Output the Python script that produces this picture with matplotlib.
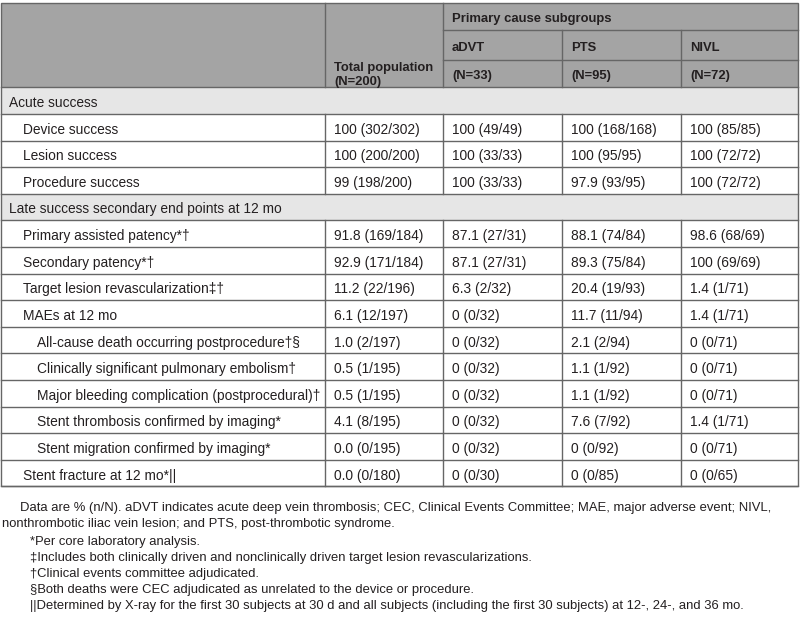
import matplotlib
matplotlib.use("Agg")
import matplotlib.pyplot as plt
from matplotlib.patches import Rectangle

plt.rcParams['font.family'] = ['Liberation Sans', 'DejaVu Sans']

# data of the table
col_heads = ["aDVT", "PTS", "NIVL"]
col_n = ["(N=33)", "(N=95)", "(N=72)"]
total_head = ["Total population", "(N=200)"]
group_head = "Primary cause subgroups"

row_labels = [
    "Acute success",
    "Device success",
    "Lesion success",
    "Procedure success",
    "Late success secondary end points at 12 mo",
    "Primary assisted patency*†",
    "Secondary patency*†",
    "Target lesion revascularization‡†",
    "MAEs at 12 mo",
    "All-cause death occurring postprocedure†§",
    "Clinically significant pulmonary embolism†",
    "Major bleeding complication (postprocedural)†",
    "Stent thrombosis confirmed by imaging*",
    "Stent migration confirmed by imaging*",
    "Stent fracture at 12 mo*||",
]
indent = [0, 1, 1, 1, 0, 1, 1, 1, 1, 2, 2, 2, 2, 2, 1]
total = [None, "100 (302/302)", "100 (200/200)", "99 (198/200)", None,
         "91.8 (169/184)", "92.9 (171/184)", "11.2 (22/196)", "6.1 (12/197)",
         "1.0 (2/197)", "0.5 (1/195)", "0.5 (1/195)", "4.1 (8/195)",
         "0.0 (0/195)", "0.0 (0/180)"]
advt = [None, "100 (49/49)", "100 (33/33)", "100 (33/33)", None,
        "87.1 (27/31)", "87.1 (27/31)", "6.3 (2/32)", "0 (0/32)",
        "0 (0/32)", "0 (0/32)", "0 (0/32)", "0 (0/32)", "0 (0/32)", "0 (0/30)"]
pts = [None, "100 (168/168)", "100 (95/95)", "97.9 (93/95)", None,
       "88.1 (74/84)", "89.3 (75/84)", "20.4 (19/93)", "11.7 (11/94)",
       "2.1 (2/94)", "1.1 (1/92)", "1.1 (1/92)", "7.6 (7/92)", "0 (0/92)", "0 (0/85)"]
nivl = [None, "100 (85/85)", "100 (72/72)", "100 (72/72)", None,
        "98.6 (68/69)", "100 (69/69)", "1.4 (1/71)", "1.4 (1/71)",
        "0 (0/71)", "0 (0/71)", "0 (0/71)", "1.4 (1/71)", "0 (0/71)", "0 (0/65)"]

footer_lines = [
    "Data are % (n/N). aDVT indicates acute deep vein thrombosis; CEC, Clinical Events Committee; MAE, major adverse event; NIVL,",
    "nonthrombotic iliac vein lesion; and PTS, post-thrombotic syndrome.",
    "*Per core laboratory analysis.",
    "‡Includes both clinically driven and nonclinically driven target lesion revascularizations.",
    "†Clinical events committee adjudicated.",
    "§Both deaths were CEC adjudicated as unrelated to the device or procedure.",
    "||Determined by X-ray for the first 30 subjects at 30 d and all subjects (including the first 30 subjects) at 12-, 24-, and 36 mo.",
]

# layout (pixels)
W, H = 800, 621
left, right = 1, 798
col_x = [left, 325, 443, 562, 681, right]
head_top, head_mid1, head_mid2, head_bot = 2.5, 30, 60, 87.3
row_h = 26.6
txt_col = "#231f20"
line_col = "#666666"
head_bg = "#a4a4a4"
sect_bg = "#e6e6e6"
fs = 9.9
fs_head = 9.4

fig = plt.figure(figsize=(W / 100, H / 100), dpi=100)
ax = fig.add_axes([0, 0, 1, 1])
ax.set_xlim(0, W)
ax.set_ylim(H, 0)
ax.axis("off")

# header
ax.add_patch(Rectangle((left, head_top), right - left, head_bot - head_top,
                       facecolor=head_bg, edgecolor="none"))
ax.text(col_x[1] + 9, 66, total_head[0], fontsize=fs_head, fontweight="bold",
        color=txt_col, va="center_baseline")
ax.text(col_x[1] + 9, 81, total_head[1], fontsize=fs_head, fontweight="bold",
        color=txt_col, va="center_baseline")
ax.text(col_x[2] + 9, 17.5, group_head, fontsize=fs_head, fontweight="bold",
        color=txt_col, va="center_baseline")
for i, (h, n) in enumerate(zip(col_heads, col_n)):
    ax.text(col_x[2 + i] + 9, 46.5, h, fontsize=fs_head, fontweight="bold",
            color=txt_col, va="center_baseline")
    ax.text(col_x[2 + i] + 9, 74.5, n, fontsize=fs_head, fontweight="bold",
            color=txt_col, va="center_baseline")
ax.plot([col_x[2], right], [head_mid1, head_mid1], color=line_col, lw=1)
ax.plot([col_x[2], right], [head_mid2, head_mid2], color=line_col, lw=1)
ax.plot([col_x[1], col_x[1]], [head_top, head_bot], color=line_col, lw=1)
ax.plot([col_x[2], col_x[2]], [head_top, head_bot], color=line_col, lw=1)
for cx in col_x[3:5]:
    ax.plot([cx, cx], [head_mid1, head_bot], color=line_col, lw=1)

# body
for r, lab in enumerate(row_labels):
    y0 = head_bot + r * row_h
    yc = y0 + row_h / 2 + 1
    section = total[r] is None
    if section:
        ax.add_patch(Rectangle((left, y0), right - left, row_h,
                               facecolor=sect_bg, edgecolor="none"))
    else:
        for cx in col_x[1:5]:
            ax.plot([cx, cx], [y0, y0 + row_h], color=line_col, lw=1)
        for c, vals in enumerate([total, advt, pts, nivl]):
            ax.text(col_x[1 + c] + 9, yc, vals[r], fontsize=fs,
                    color=txt_col, va="center_baseline")
    ax.text(9 + indent[r] * 14, yc, lab, fontsize=fs, color=txt_col,
            va="center_baseline")
    ax.plot([left, right], [y0, y0], color=line_col, lw=1)

table_bot = head_bot + len(row_labels) * row_h
ax.plot([left, right], [table_bot, table_bot], color=line_col, lw=1)
ax.add_patch(Rectangle((left, head_top), right - left, table_bot - head_top,
                       facecolor="none", edgecolor=line_col, lw=1))

# footnotes
foot_x = [20, 2, 30, 30, 30, 30, 30]
foot_y = [507, 522, 540, 556, 572, 588, 604]
for x, y, t in zip(foot_x, foot_y, footer_lines):
    ax.text(x, y, t, fontsize=9.4, color=txt_col, va="center_baseline")

fig.savefig("out.png", dpi=100, facecolor="white")
